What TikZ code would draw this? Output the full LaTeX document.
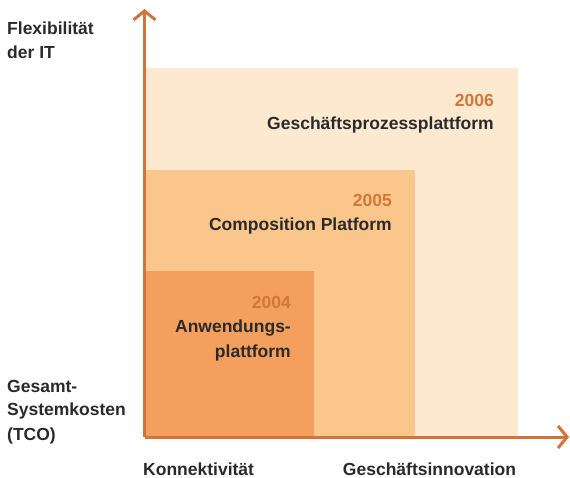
\documentclass[tikz,border=0pt]{standalone}
\usepackage{fontspec}
\setmainfont{Liberation Sans}
\usetikzlibrary{arrows.meta}
\definecolor{axisc}{HTML}{D2733A}
\definecolor{yearc}{HTML}{D2773A}
\definecolor{txtc}{HTML}{2A2A2A}
\definecolor{bgA}{HTML}{FDE9CF}
\definecolor{bgB}{HTML}{FAC68B}
\definecolor{bgC}{HTML}{F59F5E}
\tikzset{
  lbl/.style={font=\fontsize{17.5}{20}\selectfont\bfseries, text=txtc, inner sep=0pt},
  yr/.style={font=\fontsize{17.5}{20}\selectfont\bfseries, text=yearc, inner sep=0pt, anchor=east},
  axisline/.style={draw=axisc, line width=3pt, -{Straight Barb[length=9pt,width=22pt,line width=3pt]}},
}
\begin{document}
\begin{tikzpicture}[x=1pt,y=-1pt]
\useasboundingbox (0,0) rectangle (570,477);
\fill[bgA] (146,68) rectangle (518,437);
\fill[bgB] (146,170) rectangle (415,437);
\fill[bgC] (146,271) rectangle (314,437);
\coordinate (o) at (144.5,437);
\coordinate (ytip) at (144.5,9);
\coordinate (xtip) at (569,437);
\draw[axisline] (o) -- (ytip);
\draw[axisline] (o) -- (xtip);
\node[yr] (y6) at (494,100) {2006};
\node[lbl, anchor=east] (t6) at (494,125) {Geschäftsprozessplattform};
\node[yr] (y5) at (392,200) {2005};
\node[lbl, anchor=east] (t5) at (392,226) {Composition Platform};
\node[yr] (y4) at (291,302) {2004};
\node[lbl, anchor=east] (t4a) at (291,328) {Anwendungs-};
\node[lbl, anchor=east] (t4b) at (291,353) {plattform};
\node[lbl, anchor=west] (f1) at (7,28) {Flexibilität};
\node[lbl, anchor=west] (f2) at (7,52) {der IT};
\node[lbl, anchor=west] (g1) at (7,386) {Gesamt-};
\node[lbl, anchor=west] (g2) at (7,411) {Systemkosten};
\node[lbl, anchor=west] (g3) at (7,436) {(TCO)};
\node[lbl, anchor=west] (k) at (143,469) {Konnektivität};
\node[lbl] (gi) at (429.5,469) {Geschäftsinnovation};
\end{tikzpicture}
\end{document}
